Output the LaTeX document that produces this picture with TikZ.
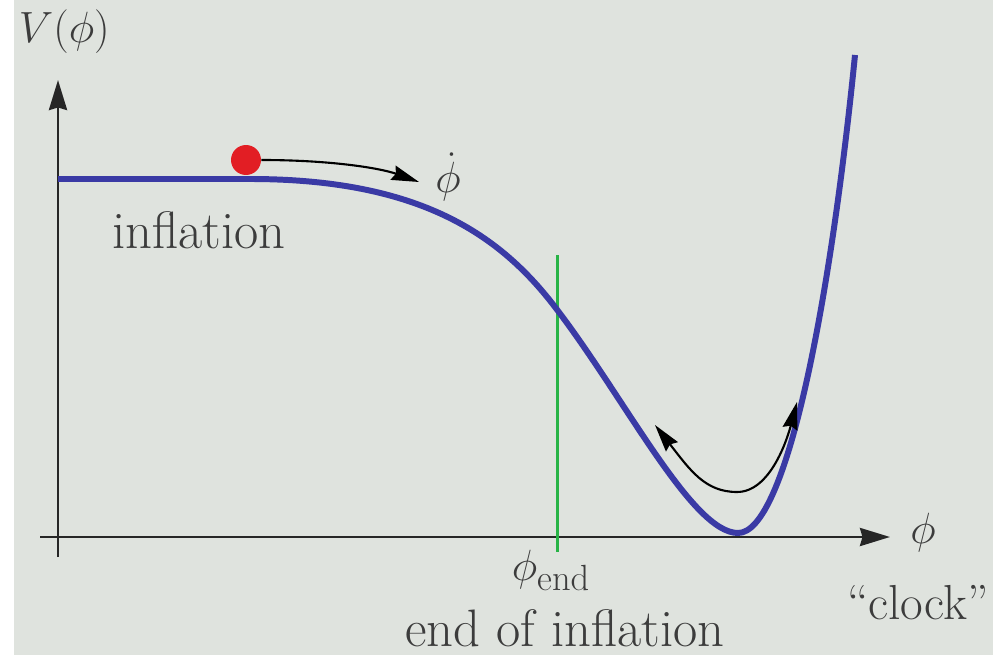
\documentclass[tikz,border=0pt]{standalone}
\usetikzlibrary{arrows.meta}
\definecolor{bg}{RGB}{223,227,222}
\definecolor{curveblue}{RGB}{58,58,165}
\definecolor{dotred}{RGB}{226,30,36}
\definecolor{lgreen}{RGB}{40,180,70}
\definecolor{txt}{RGB}{60,60,60}
\tikzset{
  axis/.style={line width=1.7pt, black!85, -{Stealth[length=0.6cm,width=0.36cm,inset=0.05cm]}},
  motion/.style={line width=1.2pt, black, -{Stealth[length=0.55cm,width=0.3cm,inset=0.06cm]}},
  bigtext/.style={text=txt, font=\fontsize{30}{34}\selectfont, inner sep=0pt},
  midtext/.style={text=txt, font=\fontsize{28}{32}\selectfont, inner sep=0pt},
}
\begin{document}
\begin{tikzpicture}[x=0.02cm,y=-0.02cm]
\useasboundingbox (0,0) rectangle (993,655);
\fill[bg] (0,0) rectangle (993,655);
% axes
\coordinate (xs) at (40,537);
\coordinate (xe) at (890,537);
\coordinate (ys) at (58,557);
\coordinate (ye) at (58,80);
\draw[axis] (xs) -- (xe);
\draw[axis] (ys) -- (ye);
% green line
\coordinate (gt) at (557,255);
\coordinate (gb) at (557,552);
\draw[lgreen, line width=1.7pt] (gt) -- (gb);
% potential
\coordinate (c0) at (58,179);
\coordinate (c1) at (250,179);
\coordinate (c2) at (555,307);
\coordinate (c3) at (738,533);
\coordinate (c4) at (855,55);
\draw[curveblue, line width=3.4pt, line join=round]
  (c0) -- (c1) .. controls (420,179) and (500,235) .. (c2)
  .. controls (625,398) and (692,533) .. (c3)
  .. controls (786,533) and (830,305) .. (c4);
% ball
\node[circle, fill=dotred, minimum size=0.6cm, inner sep=0pt] (ball) at (246,160) {};
\coordinate (bt) at (419,182);
\draw[motion] (ball.east) .. controls (330,160) and (380,168) .. (bt);
% oscillation
\coordinate (ol) at (655,425);
\coordinate (ob) at (737,492);
\coordinate (or) at (797,402);
\draw[line width=1.2pt, black, {Stealth[length=0.55cm,width=0.3cm,inset=0.06cm]}-{Stealth[length=0.55cm,width=0.3cm,inset=0.06cm]}]
  (ol) .. controls (690,470) and (705,492) .. (ob)
  .. controls (770,492) and (787,440) .. (or);
% labels
\node[bigtext, anchor=east] (vlab) at (110,32) {$V(\phi)$};
\node[bigtext, anchor=base west] (infl) at (112,248) {inflation};
\node[midtext] (phidot) at (448,177) {$\dot\phi$};
\node[midtext] (phiend) at (551,570) {$\phi_{\mathrm{end}}$};
\node[bigtext, anchor=base west] (endinf) at (405,646) {end of inflation};
\node[bigtext] (phi) at (923,533) {$\phi$};
\node[midtext, anchor=base west] (clock) at (847,619) {``clock''};
\fill[white] (0,0) rectangle (14,655);
\end{tikzpicture}
\end{document}
